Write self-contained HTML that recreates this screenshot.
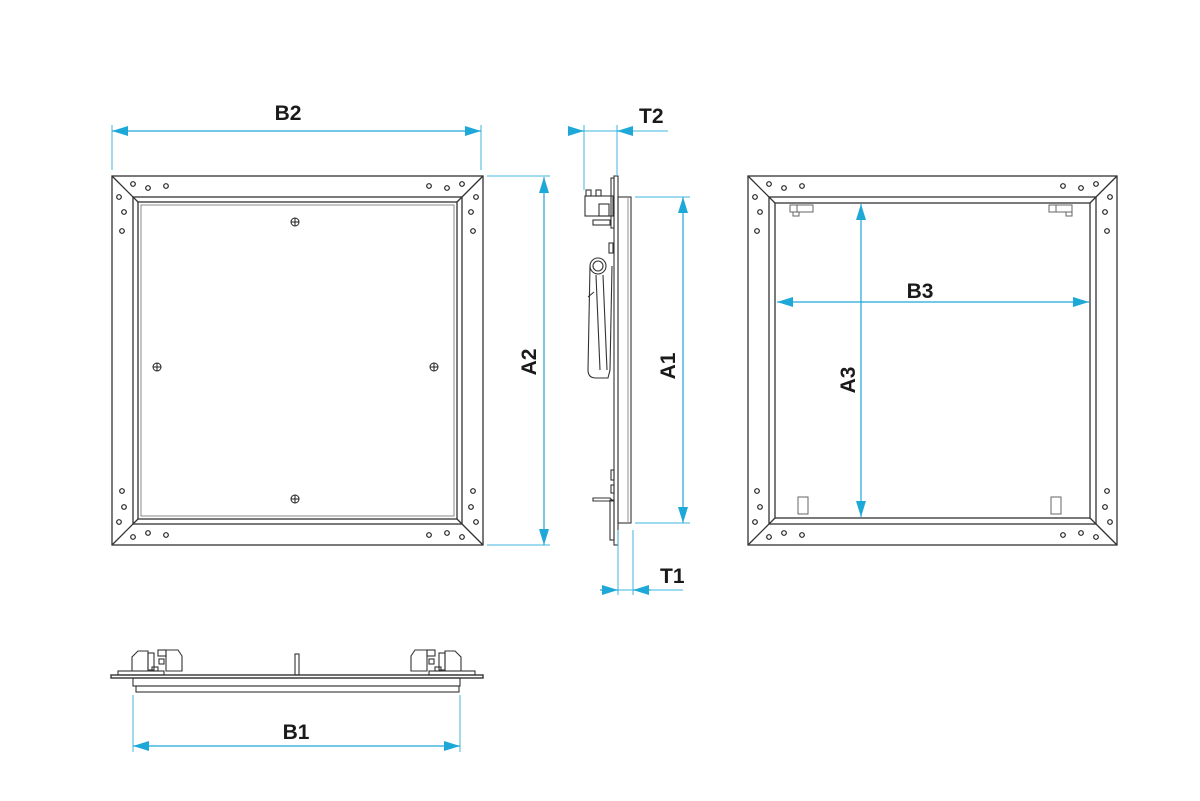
<!DOCTYPE html>
<html><head><meta charset="utf-8"><style>
html,body{margin:0;padding:0;background:#fff;}
svg{display:block;}
text{font-family:"Liberation Sans",sans-serif;font-weight:bold;font-size:21px;fill:#1a1a1a;}
</style></head><body>
<svg width="1200" height="801" viewBox="0 0 1200 801" xmlns="http://www.w3.org/2000/svg">
<defs>
<marker id="a" viewBox="0 0 16 10" refX="16" refY="5" markerWidth="16" markerHeight="10" markerUnits="userSpaceOnUse" orient="auto-start-reverse"><path d="M0,0L16,5L0,10z" fill="#1ea8d8"/></marker>
</defs>

<!-- LEFT PANEL -->
<g fill="none" stroke="#333" stroke-width="1.3">
<rect x="112" y="176" width="371" height="369"/>
<rect x="133" y="197" width="329" height="327"/>
<rect x="138" y="202" width="319" height="317"/>
<rect x="141" y="205" width="313" height="311" stroke="#888" stroke-width="1"/>
<line x1="112" y1="176" x2="138" y2="202"/><line x1="483" y1="176" x2="457" y2="202"/>
<line x1="112" y1="545" x2="138" y2="519"/><line x1="483" y1="545" x2="457" y2="519"/>
</g>
<g fill="none" stroke="#222" stroke-width="1.2">
<circle cx="133" cy="184" r="2.3"/><circle cx="148" cy="188" r="2.3"/><circle cx="166" cy="186" r="2.3"/>
<circle cx="119" cy="197" r="2.3"/><circle cx="124" cy="212" r="2.3"/><circle cx="122" cy="231" r="2.3"/>
<circle cx="462" cy="184" r="2.3"/><circle cx="447" cy="188" r="2.3"/><circle cx="429" cy="186" r="2.3"/>
<circle cx="476" cy="197" r="2.3"/><circle cx="471" cy="212" r="2.3"/><circle cx="473" cy="231" r="2.3"/>
<circle cx="122" cy="491" r="2.3"/><circle cx="124" cy="507" r="2.3"/><circle cx="119" cy="522" r="2.3"/>
<circle cx="133" cy="537" r="2.3"/><circle cx="148" cy="533" r="2.3"/><circle cx="166" cy="535" r="2.3"/>
<circle cx="473" cy="491" r="2.3"/><circle cx="471" cy="507" r="2.3"/><circle cx="476" cy="522" r="2.3"/>
<circle cx="462" cy="537" r="2.3"/><circle cx="447" cy="533" r="2.3"/><circle cx="429" cy="535" r="2.3"/>
</g>
<g fill="none" stroke="#222" stroke-width="1">
<circle cx="295" cy="222" r="4"/><path d="M291,222h8M295,218v8"/>
<circle cx="157" cy="367" r="4"/><path d="M153,367h8M157,363v8"/>
<circle cx="434" cy="367" r="4"/><path d="M430,367h8M434,363v8"/>
<circle cx="295" cy="499" r="4"/><path d="M291,499h8M295,495v8"/>
</g>

<!-- RIGHT PANEL -->
<g fill="none" stroke="#333" stroke-width="1.3">
<rect x="748" y="176" width="369" height="369"/>
<rect x="769" y="197" width="327" height="327"/>
<rect x="775" y="203" width="315" height="315"/>
<line x1="748" y1="176" x2="775" y2="203"/><line x1="1117" y1="176" x2="1090" y2="203"/>
<line x1="748" y1="545" x2="775" y2="518"/><line x1="1117" y1="545" x2="1090" y2="518"/>
</g>
<g fill="none" stroke="#222" stroke-width="1.2">
<circle cx="769" cy="184" r="2.3"/><circle cx="784" cy="188" r="2.3"/><circle cx="802" cy="186" r="2.3"/>
<circle cx="755" cy="197" r="2.3"/><circle cx="760" cy="212" r="2.3"/><circle cx="757" cy="231" r="2.3"/>
<circle cx="1096" cy="184" r="2.3"/><circle cx="1081" cy="188" r="2.3"/><circle cx="1063" cy="186" r="2.3"/>
<circle cx="1110" cy="197" r="2.3"/><circle cx="1105" cy="212" r="2.3"/><circle cx="1107" cy="231" r="2.3"/>
<circle cx="757" cy="491" r="2.3"/><circle cx="760" cy="507" r="2.3"/><circle cx="755" cy="522" r="2.3"/>
<circle cx="769" cy="537" r="2.3"/><circle cx="784" cy="533" r="2.3"/><circle cx="802" cy="535" r="2.3"/>
<circle cx="1107" cy="491" r="2.3"/><circle cx="1105" cy="507" r="2.3"/><circle cx="1110" cy="522" r="2.3"/>
<circle cx="1096" cy="537" r="2.3"/><circle cx="1081" cy="533" r="2.3"/><circle cx="1063" cy="535" r="2.3"/>
</g>
<g fill="none" stroke="#666" stroke-width="1">
<rect x="790" y="205" width="7" height="7"/><rect x="797" y="205" width="16" height="7"/><rect x="793" y="212" width="6" height="4"/>
<rect x="1049" y="205" width="7" height="7"/><rect x="1056" y="205" width="16" height="7"/><rect x="1066" y="212" width="6" height="4"/>
<rect x="798" y="497" width="10" height="17"/><rect x="1051" y="497" width="10" height="17"/>
</g>

<!-- SIDE VIEW -->
<g fill="none" stroke="#333" stroke-width="1.1">
<rect x="614" y="176" width="4" height="369"/>
<rect x="618" y="197" width="13" height="326"/>
<line x1="628" y1="197" x2="628" y2="523" stroke="#999"/>
<rect x="611" y="178" width="3" height="50"/>
<rect x="585" y="196" width="28" height="20"/>
<rect x="586" y="190" width="5" height="6"/><rect x="596" y="190" width="5" height="6"/>
<rect x="599" y="204" width="10" height="12"/>
<rect x="593" y="220" width="17" height="5"/>
<circle cx="598" cy="266" r="8"/><circle cx="598" cy="266" r="5"/>
<path d="M590,266 L588,370 Q588,378 596,378 L608,378 L610,370 L612,266"/>
<line x1="596" y1="275" x2="600" y2="370"/>
<line x1="603" y1="275" x2="607" y2="370"/>
<path d="M588,297 l6,-5"/>
<rect x="609" y="243" width="4" height="10"/>
<rect x="611" y="470" width="3" height="10"/><rect x="611" y="485" width="3" height="8"/>
<path d="M593,498 h17 l3,3 h-20z"/>
<rect x="610" y="500" width="4" height="40"/>
</g>

<!-- BOTTOM VIEW -->
<g fill="none" stroke="#333" stroke-width="1.1">
<rect x="111" y="675" width="372" height="3" stroke-width="1.4"/>
<rect x="133" y="678" width="327" height="8"/>
<rect x="136" y="686" width="323" height="6"/>
<rect x="295" y="654" width="4" height="21"/>
<rect x="118" y="671" width="46" height="4"/>
<path d="M132,671 l0,-14 l6,-6 l10,0 l0,20"/>
<rect x="148" y="653" width="6" height="17"/><rect x="158" y="650" width="8" height="6"/>
<rect x="159" y="659" width="5" height="5"/>
<path d="M166,650 l12,0 l4,6 l0,15 l-16,0z"/>
<rect x="152" y="667" width="6" height="4"/>
<rect x="429" y="671" width="46" height="4"/>
<path d="M461,671 l0,-14 l-6,-6 l-10,0 l0,20"/>
<rect x="439" y="653" width="6" height="17"/><rect x="427" y="650" width="8" height="6"/>
<rect x="429" y="659" width="5" height="5"/>
<path d="M427,650 l-12,0 l-4,6 l0,15 l16,0z"/>
<rect x="435" y="667" width="6" height="4"/>
</g>

<!-- DIMENSIONS -->
<g stroke="#3fb4dd" stroke-width="1" fill="none">
<line x1="112" y1="125" x2="112" y2="170"/><line x1="481" y1="125" x2="481" y2="170"/>
<line x1="487" y1="176" x2="550" y2="176"/><line x1="487" y1="545" x2="550" y2="545"/>
<line x1="584" y1="125" x2="584" y2="190"/><line x1="617" y1="125" x2="617" y2="176"/>
<line x1="635" y1="197" x2="690" y2="197"/><line x1="635" y1="523" x2="690" y2="523"/>
<line x1="618" y1="530" x2="618" y2="595"/><line x1="633" y1="530" x2="633" y2="595"/>
<line x1="133" y1="695" x2="133" y2="752"/><line x1="460" y1="695" x2="460" y2="752"/>
<line x1="570" y1="131" x2="668" y2="131"/>
<line x1="600" y1="590" x2="683" y2="590"/>
</g>
<g stroke="#1ea8d8" stroke-width="1.2" fill="none">
<line x1="112" y1="131" x2="481" y2="131" marker-start="url(#a)" marker-end="url(#a)"/>
<line x1="544" y1="177" x2="544" y2="545" marker-start="url(#a)" marker-end="url(#a)"/>
<line x1="683" y1="197" x2="683" y2="523" marker-start="url(#a)" marker-end="url(#a)"/>
<line x1="777" y1="302" x2="1089" y2="302" marker-start="url(#a)" marker-end="url(#a)"/>
<line x1="861" y1="204" x2="861" y2="517" marker-start="url(#a)" marker-end="url(#a)"/>
<line x1="133" y1="746" x2="460" y2="746" marker-start="url(#a)" marker-end="url(#a)"/>
<line x1="568" y1="131" x2="584" y2="131" marker-end="url(#a)"/>
<line x1="633" y1="131" x2="617" y2="131" marker-end="url(#a)"/>
<line x1="600" y1="590" x2="618" y2="590" marker-end="url(#a)"/>
<line x1="651" y1="590" x2="633" y2="590" marker-end="url(#a)"/>
</g>
<text x="288" y="120" text-anchor="middle">B2</text>
<text x="639" y="123">T2</text>
<text x="660" y="583">T1</text>
<text x="296" y="739" text-anchor="middle">B1</text>
<text x="920" y="298" text-anchor="middle">B3</text>
<text transform="translate(536,362) rotate(-90)" text-anchor="middle">A2</text>
<text transform="translate(675,366) rotate(-90)" text-anchor="middle">A1</text>
<text transform="translate(855,380) rotate(-90)" text-anchor="middle">A3</text>
</svg>
</body></html>
